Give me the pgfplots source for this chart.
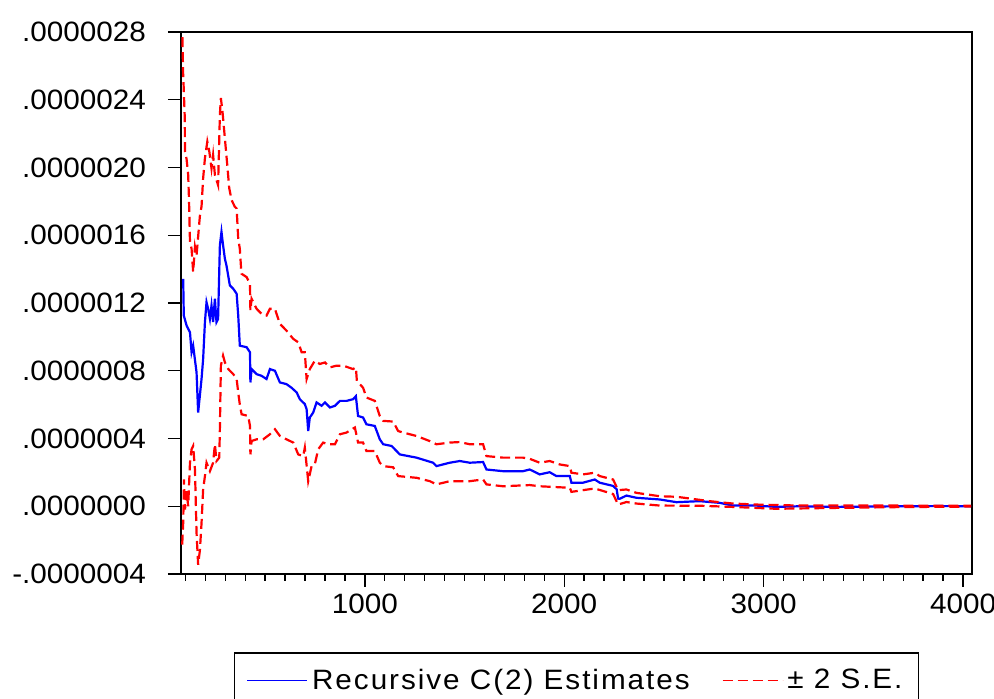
\documentclass[border=0pt]{standalone}
\usepackage{pgfplots}
\pgfplotsset{compat=1.18}
\usepackage{fontspec}
\setmainfont{Liberation Sans}[FakeStretch=1.06]
\newfontfamily\legfont{Liberation Sans}[FakeStretch=1.06,LetterSpace=7]
\definecolor{eblue}{RGB}{0,0,255}
\definecolor{ered}{RGB}{255,0,0}
\begin{document}
\begin{tikzpicture}
\begin{axis}[
  scale only axis, width=395.5pt, height=271pt,
  xmin=78, xmax=4045, ymin=-0.4, ymax=2.8,
  axis line style={line width=1.2pt},
  font=\fontsize{14}{16}\selectfont,
  xtick={1000,2000,3000,4000}, xticklabels={1000,2000,3000,4000},
  minor xtick={100,200,...,4000},
  ytick={-0.4,0,0.4,0.8,1.2,1.6,2.0,2.4,2.8},
  yticklabels={-.0000004,.0000000,.0000004,.0000008,.0000012,.0000016,.0000020,.0000024,.0000028},
  yticklabel style={xshift=-7.5pt},
  tick align=outside, xtick pos=bottom, ytick pos=left,
  major tick length=6.5pt, minor tick length=3.5pt,
  tick style={black, line width=0.7pt},
  legend columns=2,
  legend style={at={(0.5,-0.1439)}, anchor=north, draw=black, line width=0.8pt,
    inner xsep=6pt, inner ysep=6pt, font=\legfont\fontsize{14}{16}\selectfont,
    /tikz/every even column/.append style={column sep=14pt}},
  legend image code/.code={\draw[#1, line width=0.8pt] (0pt,0pt) -- (30pt,0pt);},
]
\addplot[eblue, line width=1.1pt] table {
x y
89 1.343
91 1.20
92 1.126
106 1.067
123 1.027
131 0.909
139 0.948
156 0.79
164 0.553
181 0.751
189 0.869
198 1.087
206 1.205
214 1.166
223 1.106
231 1.185
239 1.087
248 1.225
256 1.087
264 1.106
273 1.541
281 1.62
289 1.541
298 1.462
306 1.422
323 1.304
340 1.284
357 1.255
365 1.126
373 0.948
407 0.939
424 0.909
426 0.731
432 0.81
457 0.78
482 0.77
507 0.751
524 0.81
549 0.80
574 0.731
607 0.721
632 0.70
658 0.672
674 0.632
699 0.603
708 0.573
716 0.444
724 0.524
741 0.553
758 0.613
783 0.593
800 0.613
825 0.583
850 0.593
875 0.622
908 0.622
941 0.632
955 0.65
966 0.533
991 0.524
1008 0.484
1050 0.474
1075 0.395
1092 0.366
1134 0.356
1159 0.326
1175 0.306
1259 0.287
1342 0.257
1359 0.237
1426 0.257
1476 0.267
1526 0.257
1593 0.261
1610 0.217
1693 0.207
1793 0.207
1827 0.217
1877 0.188
1927 0.201
1961 0.178
2028 0.178
2036 0.139
2094 0.139
2153 0.158
2178 0.139
2245 0.12
2263 0.10
2270 0.045
2278 0.044
2312 0.063
2362 0.05
2479 0.04
2563 0.024
2679 0.030
2780 0.020
2846 0.004
2963 0.004
3064 -0.004
3181 0
3346 -0.004
3532 -0.002
3682 0
3882 0.001
4040 0
};
\addlegendentry{Recursive C(2) Estimates}
\addplot[ered, line width=1.1pt, dash pattern=on 5pt off 2.5pt] table {
x y
85 2.77
88 2.60
89 2.539
91 2.489
97 2.29
98 2.094
106 2.05
114 1.956
118 1.817
123 1.561
131 1.521
139 1.383
148 1.531
156 1.481
173 1.718
181 1.77
189 1.936
198 2.055
210 2.153
220 2.094
231 1.995
239 2.074
248 1.956
264 1.896
273 2.311
278 2.41
286 2.331
298 2.173
310 2.015
320 1.877
332 1.807
348 1.768
357 1.758
365 1.58
373 1.52
381 1.373
407 1.353
424 1.314
426 1.156
432 1.225
457 1.166
482 1.136
507 1.126
524 1.166
549 1.166
574 1.077
607 1.037
641 0.988
666 0.968
683 0.909
699 0.909
708 0.751
724 0.81
749 0.859
774 0.84
800 0.849
825 0.82
858 0.83
891 0.83
941 0.81
955 0.82
960 0.74
991 0.70
1008 0.642
1050 0.622
1075 0.533
1092 0.504
1142 0.50
1167 0.444
1192 0.435
1259 0.415
1325 0.385
1359 0.366
1426 0.376
1476 0.379
1526 0.366
1593 0.366
1610 0.296
1693 0.287
1793 0.287
1827 0.28
1877 0.257
1927 0.267
1977 0.247
2028 0.237
2036 0.198
2094 0.188
2153 0.198
2178 0.178
2245 0.158
2270 0.095
2312 0.099
2362 0.079
2479 0.059
2563 0.056
2729 0.030
2846 0.016
2963 0.01
3181 0.004
3600 0.004
4040 0.003
};
\addlegendentry{± 2 S.E.}
\addplot[ered, line width=1.1pt, dash pattern=on 5pt off 2.5pt, forget plot] table {
x y
84 -0.227
89 -0.099
93 0.158
98 -0.02
106 0.089
114 0
123 0.257
131 0.336
139 0.356
148 0.217
156 -0.158
164 -0.346
173 -0.257
181 -0.099
189 0.099
198 0.178
206 0.257
223 0.207
239 0.257
248 0.366
256 0.267
270 0.287
273 0.455
278 0.83
289 0.889
298 0.85
315 0.81
340 0.78
357 0.751
365 0.672
373 0.60
382 0.543
415 0.533
424 0.474
426 0.306
432 0.385
457 0.395
490 0.395
524 0.425
549 0.455
574 0.415
607 0.395
641 0.376
666 0.306
691 0.296
699 0.346
716 0.148
733 0.237
749 0.247
766 0.336
791 0.376
816 0.366
850 0.366
875 0.425
908 0.435
950 0.465
966 0.376
991 0.376
1008 0.326
1050 0.326
1075 0.257
1092 0.237
1142 0.23
1167 0.178
1259 0.168
1326 0.148
1359 0.129
1426 0.148
1526 0.148
1593 0.158
1610 0.129
1693 0.118
1827 0.125
1877 0.118
2028 0.109
2036 0.085
2153 0.105
2245 0.072
2270 0.01
2312 0.025
2362 0.016
2479 0.004
2679 0.003
2846 -0.004
3064 -0.015
3346 -0.01
3682 -0.005
4040 -0.002
};
\end{axis}
\pgfresetboundingbox
\path ([shift={(-90.5pt,-62.5pt)}]current axis.south west) rectangle ([shift={(11pt,16pt)}]current axis.north east);
\end{tikzpicture}
\end{document}
